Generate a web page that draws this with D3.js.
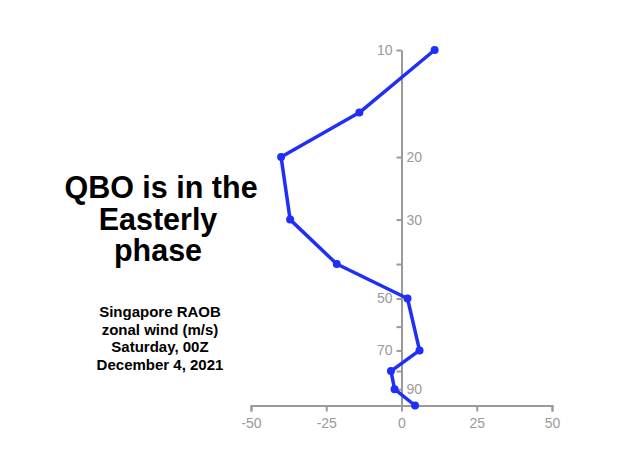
<!DOCTYPE html>
<html><head><meta charset="utf-8">
<script src="https://cdn.jsdelivr.net/npm/d3@7"></script>
<style>body{margin:0;background:#fff}svg{display:block}</style>
</head><body><svg width="640" height="460"></svg>
<script>
const pressure = [10, 15, 20, 30, 40, 50, 70, 80, 90, 100];
const wind = [11, -14, -40, -37, -21.5, 2, 6, -3.5, -2.3, 4.5];
const yTicks = [10, 20, 30, 40, 50, 60, 70, 80, 90];
const yLabels = [10, 20, 30, 50, 70, 90];
const xTicks = [-50, -25, 0, 25, 50];
const titleLines = ["QBO is in the", "Easterly", "phase"];
const infoLines = ["Singapore RAOB", "zonal wind (m/s)", "Saturday, 00Z", "December 4, 2021"];

const svg = d3.select("svg");
const font = "'Liberation Sans', Arial, Helvetica, sans-serif";
const axisColor = "#9a9a9a";
const lineColor = "#1f2ff7";

const x = d3.scaleLinear().domain([-50, 50]).range([251, 552]);
const y = d3.scaleLog().domain([10, 100]).range([50, 405.5]);

// x axis
const gx = svg.append("g").attr("transform", `translate(0,${y(100)})`)
  .call(d3.axisBottom(x).tickValues(xTicks).tickSize(6).tickPadding(7).tickFormat(d => String(d)));
gx.selectAll("path,line").attr("stroke", axisColor).attr("stroke-width", 2);
gx.selectAll("text").attr("fill", axisColor).attr("font-family", font).attr("font-size", 14);

// y axis at x=0
const windAt = p => wind[pressure.indexOf(p)];
const gy = svg.append("g").attr("transform", `translate(${x(0)},0)`)
  .call(d3.axisRight(y).tickValues(yTicks).tickSizeInner(-5).tickSizeOuter(0)
    .tickFormat(d => yLabels.includes(d) ? d : ""));
gy.selectAll("path,line").attr("stroke", axisColor).attr("stroke-width", 2);
gy.selectAll("text").attr("fill", axisColor).attr("font-family", font).attr("font-size", 14)
  .each(function(d) {
    const w = windAt(d);
    const left = w !== undefined && w > 0;
    d3.select(this).attr("text-anchor", left ? "end" : "start").attr("x", left ? -9 : 5);
  });

// wind profile
const data = pressure.map((p, i) => ({p, w: wind[i]}));
svg.append("path").datum(data)
  .attr("fill", "none").attr("stroke", lineColor).attr("stroke-width", 3.5)
  .attr("stroke-linejoin", "round").attr("stroke-linecap", "round")
  .attr("d", d3.line().x(d => x(d.w)).y(d => y(d.p)));
svg.append("g").selectAll("circle").data(data).join("circle")
  .attr("cx", d => x(d.w)).attr("cy", d => y(d.p)).attr("r", 4).attr("fill", lineColor);

// title
svg.append("g").selectAll("text").data(titleLines).join("text")
  .attr("font-family", font).attr("font-weight", "bold").attr("font-size", 30.5)
  .attr("text-anchor", "middle").attr("fill", "#000")
  .attr("x", (d, i) => i === 0 ? 161 : 158).attr("y", (d, i) => 198 + i * 31.5).text(d => d);

svg.append("g").selectAll("text").data(infoLines).join("text")
  .attr("font-family", font).attr("font-weight", "bold").attr("font-size", 15)
  .attr("text-anchor", "middle").attr("fill", "#000")
  .attr("x", 160).attr("y", (d, i) => 317 + i * 17.7).text(d => d);
</script></body></html>
